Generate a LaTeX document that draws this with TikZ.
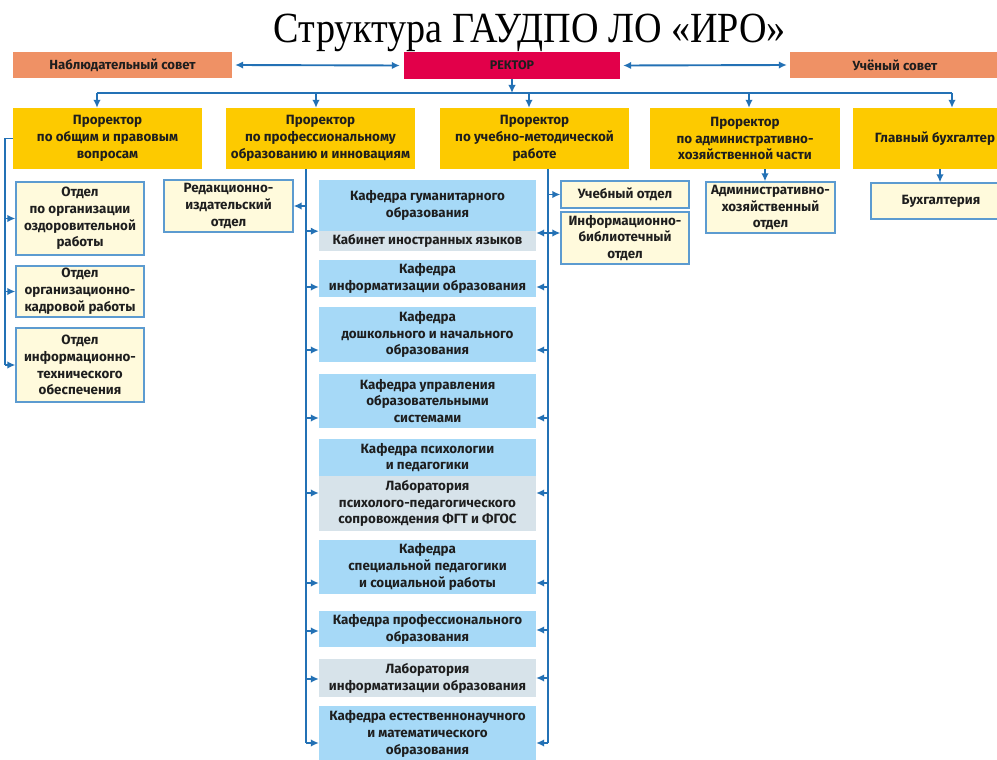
\documentclass[tikz,border=0pt]{standalone}
\usepackage{fontspec}
\setmainfont{Fira Sans}
\newfontfamily\titlefont{Liberation Serif}
\usetikzlibrary{arrows.meta}
\definecolor{salmon}{HTML}{EF9165}
\definecolor{rektorc}{HTML}{E2004A}
\definecolor{yelc}{HTML}{FDCA00}
\definecolor{linec}{HTML}{2371B5}
\definecolor{creamc}{HTML}{FFFADC}
\definecolor{creamb}{HTML}{5C9BD0}
\definecolor{lblue}{HTML}{A6D9F7}
\definecolor{lgrey}{HTML}{D7E3EA}
\definecolor{txtc}{HTML}{1E1E1E}
\begin{document}
\begin{tikzpicture}[x=1pt,y=-1pt,
  every node/.style={inner sep=0pt, align=center, text=txtc,
    font=\bfseries\fontsize{13.4}{16.8}\selectfont},
  topbox/.style={fill=salmon, font=\bfseries\fontsize{13.2}{15}\selectfont},
  rekbox/.style={fill=rektorc, font=\bfseries\fontsize{12.5}{15}\selectfont},
  yelbox/.style={fill=yelc},
  creambox/.style={fill=creamc, draw=creamb, line width=1.4pt},
  kafbox/.style={fill=lblue},
  labbox/.style={fill=lgrey},
  ln/.style={draw=linec, line width=1.9pt},
  arr/.style={ln, -{Latex[length=8pt,width=7.5pt]}},
  darr/.style={ln, {Latex[length=8pt,width=7.5pt]}-{Latex[length=8pt,width=7.5pt]}}
]
\useasboundingbox (0,0) rectangle (997,760);
\fill[white] (0,0) rectangle (997,760);

% title
\node[anchor=base, font=\titlefont\fontsize{43}{43}\selectfont, text=black] (title) at (530,43)
  {\resizebox{512pt}{\height}{Структура ГАУДПО ЛО «ИРО»}};

% top row
\node[topbox, minimum width=219, minimum height=26] (nab) at (122.5,65) {Наблюдательный совет};
\node[rekbox, minimum width=216, minimum height=27] (rek) at (512,65.5) {РЕКТОР};
\node[topbox, minimum width=210, minimum height=26] (uch) at (895,65) {Учёный совет};

\draw[darr] ([xshift=3pt]nab.east) -- ([xshift=-4pt]rek.west);
\draw[darr] ([xshift=3pt]rek.east) -- ([xshift=-3pt]uch.west);

% vice-rectors
\node[yelbox, minimum width=189, minimum height=61] (p1) at (107.5,138.5) {Проректор\\по общим и правовым\\вопросам};
\node[yelbox, minimum width=189, minimum height=61] (p2) at (320.5,138.5) {Проректор\\по профессиональному\\образованию и инновациям};
\node[yelbox, minimum width=189, minimum height=61] (p3) at (534.5,138.5) {Проректор\\по учебно-методической\\работе};
\node[yelbox, minimum width=190, minimum height=61] (p4) at (745,138.5) {Проректор\\по административно-\\хозяйственной части};
\node[yelbox, minimum width=164, minimum height=61] (p5) at (935,138.5) {Главный бухгалтер};

\coordinate (bus) at (0,93);
\draw[arr] (rek.south) -- (rek.south |- bus);
\draw[ln] (97,93) -- (952,93);
\foreach \n/\xx in {p1/97,p2/316,p3/529,p4/749,p5/952}
  \draw[arr] (\xx,93) -- (\n.north -| \xx,0);

% left column
\node[creambox, minimum width=128, minimum height=73] (oa) at (80,218.5) {Отдел\\по организации\\оздоровительной\\работы};
\node[creambox, minimum width=128, minimum height=51] (ob) at (80,291.5) {Отдел\\организационно-\\кадровой работы};
\node[creambox, minimum width=128, minimum height=74] (oc) at (80,365) {Отдел\\информационно-\\технического\\обеспечения};
\coordinate (L) at (5,0);
\draw[ln] (p1.west) -| (L |- oc.west);
\foreach \n in {oa,ob,oc}
  \draw[arr] (L |- \n.west) -- (\n.west);

% other departments
\node[creambox, minimum width=129, minimum height=52] (red) at (228.5,206) {Редакционно-\\издательский\\отдел};
\node[creambox, minimum width=128, minimum height=27] (uo) at (625,194.5) {Учебный отдел};
\node[creambox, minimum width=128, minimum height=52] (ib) at (625,238) {Информационно-\\библиотечный\\отдел};
\node[creambox, minimum width=129, minimum height=51] (adm) at (770.5,207.5) {Административно-\\хозяйственный\\отдел};
\node[creambox, minimum width=140, minimum height=36] (buh) at (941,201) {Бухгалтерия};

\draw[arr] (p4.south -| 765,0) -- (adm.north -| 765,0);
\draw[arr] (p5.south -| 940,0) -- (buh.north -| 940,0);

% chairs
\node[kafbox, minimum width=217, minimum height=51] (k1) at (427.5,205.5) {Кафедра гуманитарного\\образования};
\node[labbox, minimum width=217, minimum height=20] (kab) at (427.5,241) {Кабинет иностранных языков};
\node[kafbox, minimum width=217, minimum height=37] (k2) at (427.5,278.5) {Кафедра\\информатизации образования};
\node[kafbox, minimum width=217, minimum height=55] (k3) at (427.5,334.5) {Кафедра\\дошкольного и начального\\образования};
\node[kafbox, minimum width=217, minimum height=54] (k4) at (427.5,401) {Кафедра управления\\образовательными\\системами};
\node[kafbox, minimum width=217, minimum height=37] (k5) at (427.5,457.5) {Кафедра психологии\\и педагогики};
\node[labbox, minimum width=217, minimum height=55] (lab1) at (427.5,503.5) {Лаборатория\\психолого-педагогического\\сопровождения ФГТ и ФГОС};
\node[kafbox, minimum width=217, minimum height=54] (k6) at (427.5,567) {Кафедра\\специальной педагогики\\и социальной работы};
\node[kafbox, minimum width=217, minimum height=36] (k7) at (427.5,629) {Кафедра профессионального\\образования};
\node[labbox, minimum width=217, minimum height=38] (lab2) at (427.5,678) {Лаборатория\\информатизации образования};
\node[kafbox, minimum width=217, minimum height=56] (k8) at (427.5,734) {Кафедра естественнонаучного\\и математического\\образования};

% left bus of the chairs
\coordinate (ML) at (306,0);
\draw[ln] (p2.south -| ML) -- (306,743);
\draw[arr] (ML |- red.east) -- (red.east);
\draw[arr] (ML |- k1.south west) -- (k1.south west);
\foreach \n/\yy in {k2/287,k3/350,k4/418,lab1/493,k6/583,k7/631,lab2/679,k8/743}
  \draw[arr] (306,\yy) -- (\n.west |- 0,\yy);

% right bus of the chairs
\coordinate (MR) at (548,0);
\draw[ln] (p3.south -| MR) -- (548,743);
\draw[arr] (MR |- uo.west) -- (uo.west);
\draw[arr] (548,233) -- (ib.west |- 0,233);
\draw[arr] (548,233) -- (k1.east |- 0,233);
\foreach \n/\yy in {k2/287,k3/350,k4/418,lab1/493,k6/583,k7/630,lab2/678,k8/743}
  \draw[arr] (548,\yy) -- (\n.east |- 0,\yy);
\end{tikzpicture}
\end{document}
